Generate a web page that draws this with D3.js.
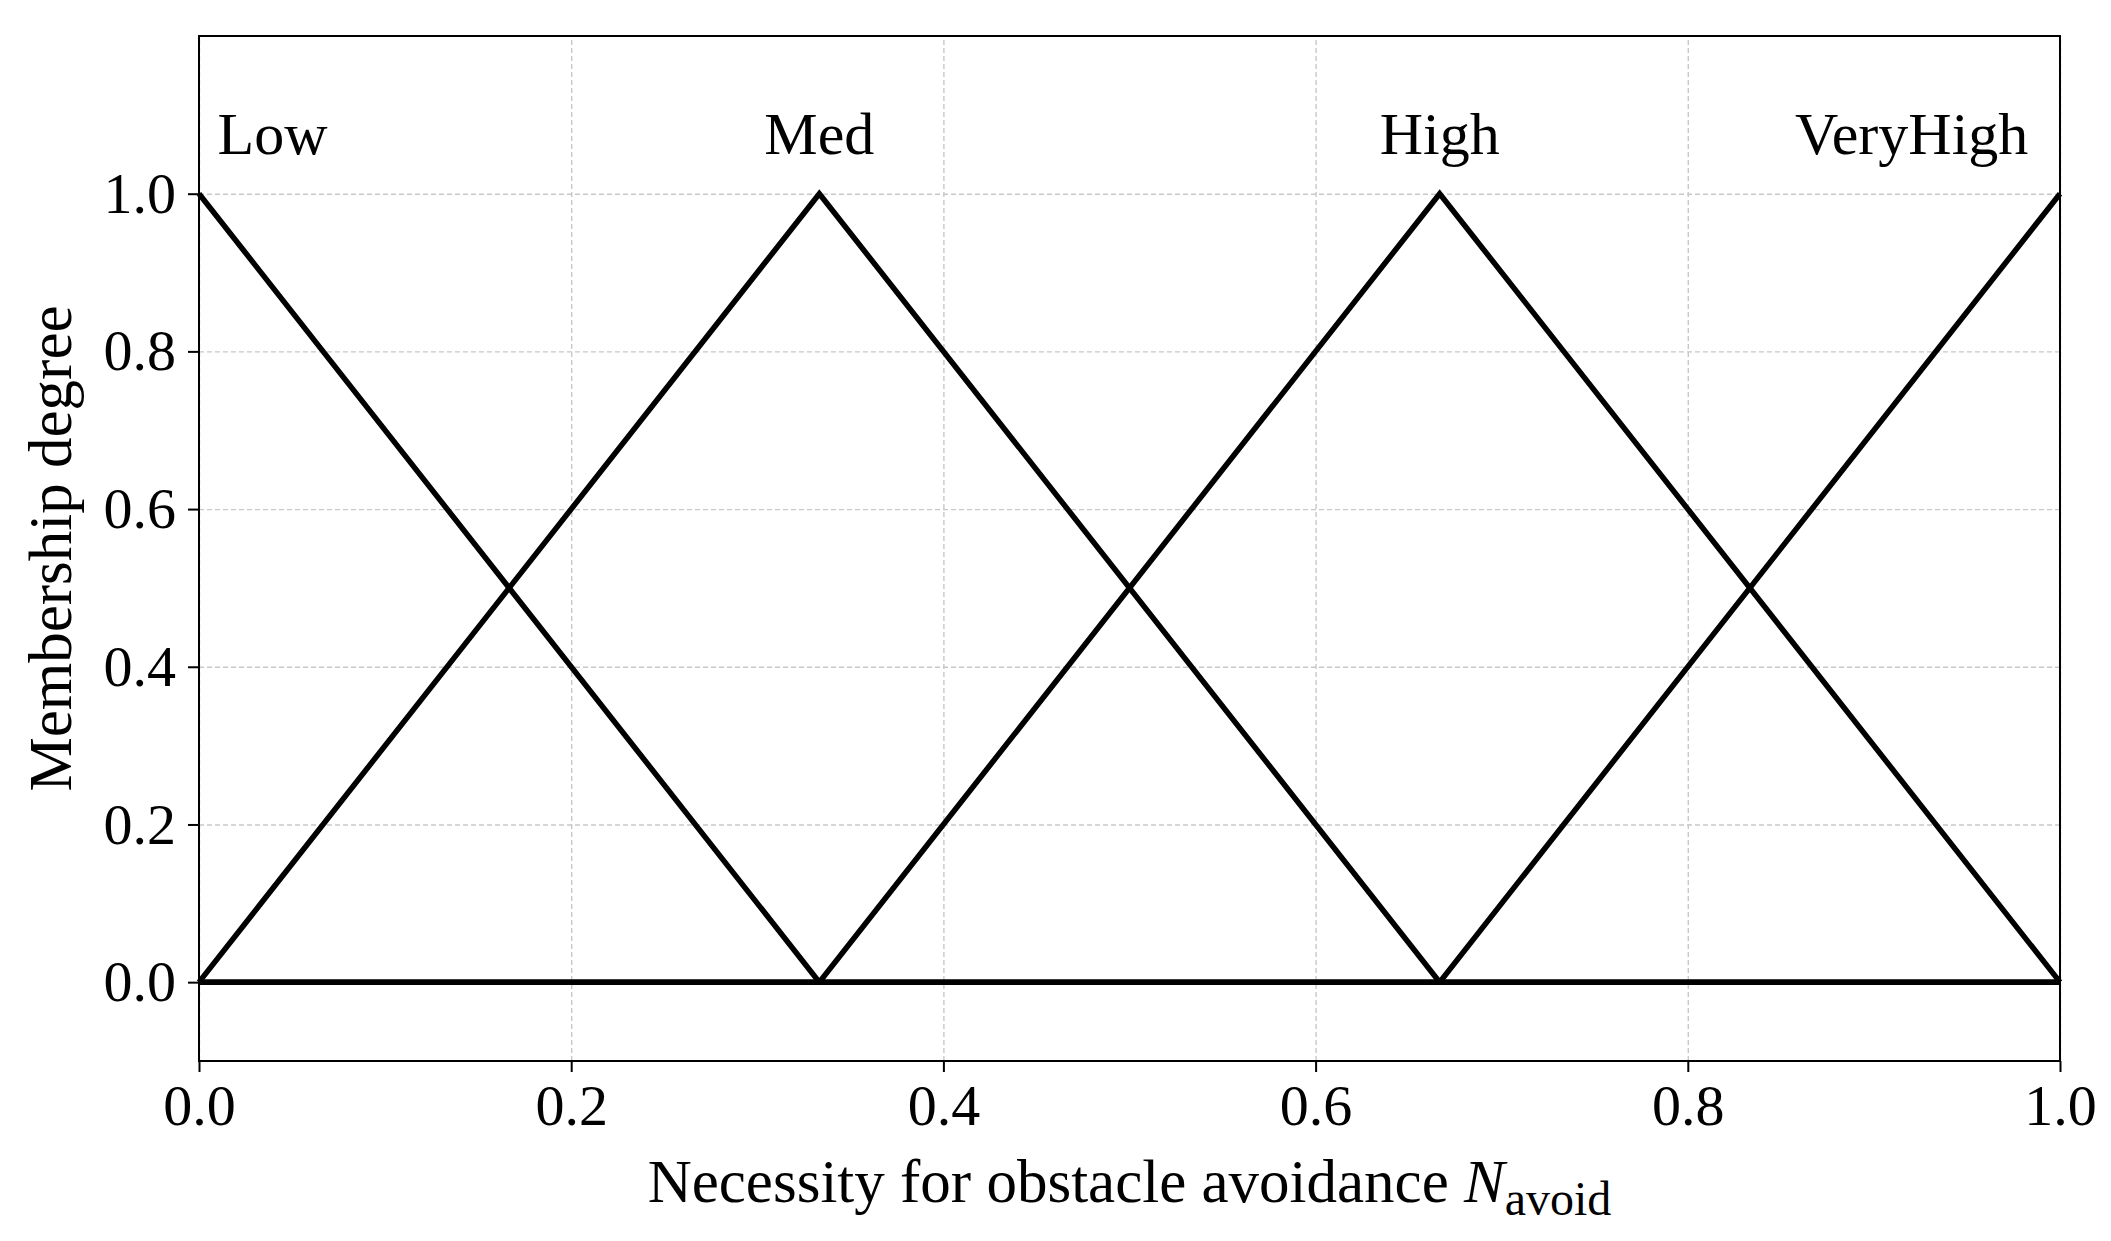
<!DOCTYPE html>
<html>
<head>
<meta charset="utf-8">
<script src="https://d3js.org/d3.v7.min.js"></script>
<style>
  body { margin: 0; background: #fff; }
  text { font-family: "Liberation Serif", "Times New Roman", serif; }
</style>
</head>
<body>
<div id="chart-area"></div>
<script>
// data
var xPoints = {
  Low: [0, 1 / 3, 1],
  Med: [0, 1 / 3, 2 / 3, 1],
  High: [0, 1 / 3, 2 / 3, 1],
  VeryHigh: [0, 2 / 3, 1]
};
var yPoints = {
  Low: [1, 0, 0],
  Med: [0, 1, 0, 0],
  High: [0, 0, 1, 0],
  VeryHigh: [0, 0, 1]
};
var setNames = ["Low", "Med", "High", "VeryHigh"];
var labelX = [0.01, 1 / 3, 2 / 3, 0.983];
var labelY = 1.05;
var xTicks = [0, 0.2, 0.4, 0.6, 0.8, 1.0];
var yTicks = [0, 0.2, 0.4, 0.6, 0.8, 1.0];

var margin = {left: 199, right: 51, top: 36, bottom: 180};
var width = 2111 - margin.left - margin.right;
var height = 1241 - margin.top - margin.bottom;
var tickFont = 58;
var labelFont = 61;

var svg = d3.select("#chart-area").append("svg")
    .attr("width", 2111)
    .attr("height", 1241);

var g = svg.append("g")
    .attr("transform", "translate(" + margin.left + ", " + margin.top + ")");

var x = d3.scaleLinear().domain([0, 1]).range([0, width]);
var y = d3.scaleLinear().domain([-0.1, 1.2]).range([height, 0]);

// grid
g.append("g")
  .attr("class", "grid")
  .attr("transform", "translate(0," + height + ")")
  .call(d3.axisBottom(x).tickValues(xTicks).tickSize(-height).tickFormat(""));
g.append("g")
  .attr("class", "grid")
  .call(d3.axisLeft(y).tickValues(yTicks).tickSize(-width).tickFormat(""));
g.selectAll(".grid .domain").remove();
g.selectAll(".grid line")
  .attr("stroke", "#c8c8c8")
  .attr("stroke-width", 1.4)
  .attr("stroke-dasharray", "5,3");

// membership lines
var line = d3.line()
  .x(d => x(d[0]))
  .y(d => y(d[1]));

setNames.forEach(name => {
  var pts = xPoints[name].map((v, i) => [v, yPoints[name][i]]);
  g.append("path")
    .datum(pts)
    .attr("fill", "none")
    .attr("stroke", "#000")
    .attr("stroke-width", 5.5)
    .attr("stroke-linejoin", "miter")
    .attr("d", line);
});

// set labels
g.selectAll(".setlabel")
  .data(setNames)
  .enter().append("text")
    .attr("class", "setlabel")
    .attr("x", (d, i) => x(labelX[i]))
    .attr("y", y(labelY))
    .attr("font-size", "60px")
    .attr("text-anchor", (d, i) => i == 0 ? "start" : (i == 3 ? "end" : "middle"))
    .text(d => d);

// frame
g.append("rect")
  .attr("width", width)
  .attr("height", height)
  .attr("fill", "none")
  .attr("stroke", "#000")
  .attr("stroke-width", 2);

// axes
var xAxisGroup = g.append("g")
  .attr("transform", "translate(0," + height + ")")
  .call(d3.axisBottom(x).tickValues(xTicks).tickSize(11).tickPadding(12).tickFormat(d3.format(".1f")));
var yAxisGroup = g.append("g")
  .call(d3.axisLeft(y).tickValues(yTicks).tickSize(11).tickPadding(12).tickFormat(d3.format(".1f")));

[xAxisGroup, yAxisGroup].forEach(a => {
  a.select(".domain").remove();
  a.selectAll("line").attr("stroke", "#000").attr("stroke-width", 2);
  a.selectAll("text")
    .attr("font-size", tickFont + "px")
    .attr("font-family", "Liberation Serif")
    .attr("fill", "#000");
});

// X label
var xl = g.append("text")
  .attr("x", width / 2)
  .attr("y", height + 141)
  .attr("font-size", labelFont + "px")
  .attr("text-anchor", "middle");
xl.append("tspan").text("Necessity for obstacle avoidance ");
xl.append("tspan").attr("font-style", "italic").text("N");
xl.append("tspan").attr("font-size", "48px").attr("dy", 13).text("avoid");

// Y label
g.append("text")
  .attr("transform", "rotate(-90)")
  .attr("x", -(height / 2))
  .attr("y", -128)
  .attr("font-size", labelFont + "px")
  .attr("text-anchor", "middle")
  .text("Membership degree");
</script>
</body>
</html>
